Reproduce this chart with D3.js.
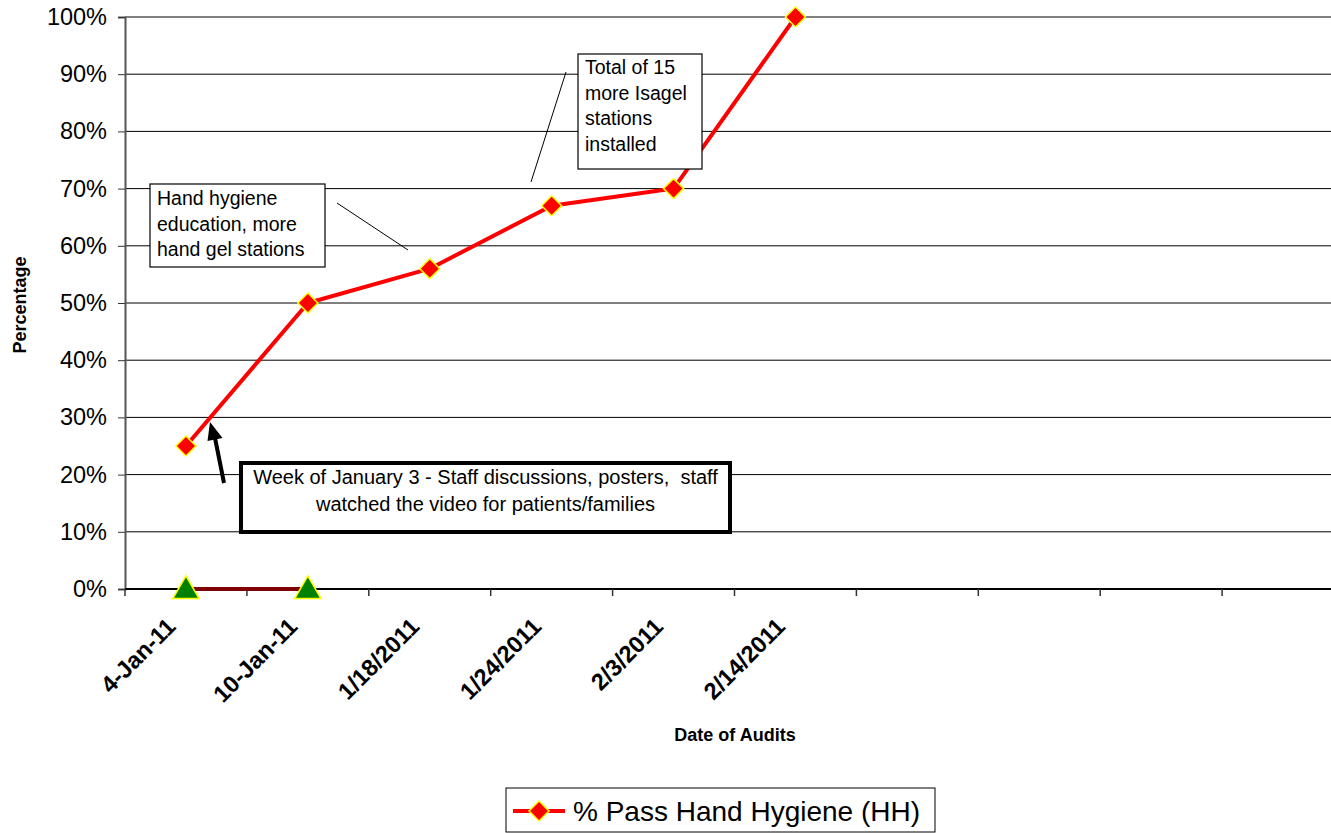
<!DOCTYPE html>
<html>
<head>
<meta charset="utf-8">
<script src="https://cdn.jsdelivr.net/npm/d3@7/dist/d3.min.js"></script>
<style>
  html, body { margin: 0; padding: 0; background: #fff; }
  svg { display: block; font-family: Arial, "Liberation Sans", sans-serif; }
</style>
</head>
<body>
<svg id="chart" width="1331" height="833"></svg>
<script>
// Audit dates (10 category slots, only the first six are used)
const categories = ["4-Jan-11", "10-Jan-11", "1/18/2011", "1/24/2011", "2/3/2011", "2/14/2011", "", "", "", ""];
// % Pass Hand Hygiene (HH)
const passValues = [0.25, 0.50, 0.56, 0.67, 0.70, 1.00];
// Baseline series shown as green triangles
const baselineValues = [0, 0];
const yTicks = [0, 0.1, 0.2, 0.3, 0.4, 0.5, 0.6, 0.7, 0.8, 0.9, 1.0];
const legendLabel = "% Pass Hand Hygiene (HH)";

const svg = d3.select("#chart");
const plot = { left: 125, top: 17, bottom: 589, catWidth: 121.9 };
plot.right = plot.left + plot.catWidth * categories.length;

const x = d3.scaleBand()
  .domain(d3.range(categories.length))
  .range([plot.left, plot.right])
  .paddingInner(0).paddingOuter(0);
const y = d3.scaleLinear().domain([0, 1]).range([plot.bottom, plot.top]);
const cx = i => x(i) + x.bandwidth() / 2;

// Horizontal gridlines
svg.append("g").selectAll("line")
  .data(yTicks.slice(1))
  .join("line")
  .attr("x1", plot.left).attr("x2", plot.right)
  .attr("y1", d => y(d)).attr("y2", d => y(d))
  .attr("stroke", d => d === 1 ? "#808080" : "#000")
  .attr("stroke-width", d => d === 1 ? 2 : 1);

// Y axis
const yAxis = svg.append("g")
  .attr("transform", `translate(${plot.left},0)`)
  .call(d3.axisLeft(y).tickValues(yTicks).tickFormat(d3.format(".0%")).tickSize(7).tickPadding(11));
yAxis.select(".domain").attr("stroke", "#555").attr("stroke-width", 2);
yAxis.selectAll(".tick line").attr("stroke", "#333");
yAxis.selectAll(".tick text")
  .attr("font-size", 23.5).attr("fill", "#000")
  .attr("font-family", "Arial, 'Liberation Sans', sans-serif");

// X axis with ticks between categories
const xAxisG = svg.append("g").attr("transform", `translate(0,${plot.bottom})`);
xAxisG.append("line")
  .attr("x1", plot.left).attr("x2", plot.right)
  .attr("stroke", "#000").attr("stroke-width", 2);
xAxisG.selectAll("line.tk")
  .data(d3.range(categories.length + 1))
  .join("line").attr("class", "tk")
  .attr("x1", i => plot.left + i * x.bandwidth())
  .attr("x2", i => plot.left + i * x.bandwidth())
  .attr("y1", 0).attr("y2", 7)
  .attr("stroke", "#333").attr("stroke-width", 1.5);
xAxisG.selectAll("text")
  .data(categories.map((c, i) => ({ c, i })).filter(d => d.c))
  .join("text")
  .attr("transform", d => `translate(${cx(d.i) - 9},39) rotate(-45)`)
  .attr("text-anchor", "end")
  .attr("font-size", 23.5)
  .attr("font-weight", "bold")
  .text(d => d.c);

// Axis titles
svg.append("text")
  .attr("x", 735).attr("y", 741)
  .attr("text-anchor", "middle")
  .attr("font-size", 18).attr("font-weight", "bold")
  .text("Date of Audits");
svg.append("text")
  .attr("transform", "translate(26,305) rotate(-90)")
  .attr("text-anchor", "middle")
  .attr("font-size", 18).attr("font-weight", "bold")
  .text("Percentage");

// Baseline series: dark red line with green triangles
const line = d3.line().x((d, i) => cx(i)).y(d => y(d));
svg.append("path")
  .datum(baselineValues)
  .attr("d", line)
  .attr("fill", "none").attr("stroke", "#800000").attr("stroke-width", 4);
const tri = d3.symbol().type(d3.symbolTriangle).size(300);
svg.append("g").selectAll("path")
  .data(baselineValues)
  .join("path")
  .attr("d", tri)
  .attr("transform", (d, i) => `translate(${cx(i)},${y(d) + 2})`)
  .attr("fill", "#008000").attr("stroke", "#ffff00").attr("stroke-width", 1.5);

// Main series: red line with red diamonds
svg.append("path")
  .datum(passValues)
  .attr("d", line)
  .attr("fill", "none").attr("stroke", "#ff0000").attr("stroke-width", 4)
  .attr("stroke-linejoin", "round");
const diamond = d3.symbol().type(d3.symbolSquare).size(200);
svg.append("g").selectAll("path")
  .data(passValues)
  .join("path")
  .attr("d", diamond)
  .attr("transform", (d, i) => `translate(${cx(i)},${y(d)}) rotate(45)`)
  .attr("fill", "#ff0000").attr("stroke", "#ffff00").attr("stroke-width", 1.5);

// Callout boxes
function callout(bx, by, bw, bh, lines, opts) {
  const g = svg.append("g");
  g.append("rect")
    .attr("x", bx).attr("y", by).attr("width", bw).attr("height", bh)
    .attr("fill", "#fff").attr("stroke", "#000").attr("stroke-width", opts.border);
  g.selectAll("text")
    .data(lines)
    .join("text")
    .attr("x", opts.anchor === "middle" ? bx + bw / 2 : bx + 7)
    .attr("y", (d, i) => opts.firstBaseline + i * opts.lineHeight)
    .attr("text-anchor", opts.anchor || "start")
    .attr("font-size", opts.size)
    .attr("fill", "#000")
    .style("white-space", "pre")
    .text(d => d);
}

callout(150, 184, 175, 83,
  ["Hand hygiene", "education, more", "hand gel stations"],
  { border: 1.2, firstBaseline: 205, lineHeight: 25.5, size: 19.5 });
svg.append("line")
  .attr("x1", 337).attr("y1", 203).attr("x2", 408).attr("y2", 250)
  .attr("stroke", "#000").attr("stroke-width", 1);

callout(578, 54, 124, 115,
  ["Total of 15", "more Isagel", "stations", "installed"],
  { border: 1.2, firstBaseline: 74, lineHeight: 25.7, size: 19.5 });
svg.append("line")
  .attr("x1", 566).attr("y1", 72).attr("x2", 531).attr("y2", 182)
  .attr("stroke", "#000").attr("stroke-width", 1);

callout(241, 463, 489, 69,
  ["Week of January 3 - Staff discussions, posters,  staff", "watched the video for patients/families"],
  { border: 4, anchor: "middle", firstBaseline: 484, lineHeight: 27, size: 20 });

// Arrow pointing at the first rise
svg.append("line")
  .attr("x1", 224).attr("y1", 483).attr("x2", 215).attr("y2", 438)
  .attr("stroke", "#000").attr("stroke-width", 4);
svg.append("path")
  .attr("d", "M210,422 L207.5,441 L222.5,438 Z")
  .attr("fill", "#000");

// Legend
const lg = svg.append("g");
lg.append("rect")
  .attr("x", 506).attr("y", 788).attr("width", 429).attr("height", 44)
  .attr("fill", "#fff").attr("stroke", "#000").attr("stroke-width", 1);
lg.append("line")
  .attr("x1", 513).attr("x2", 565).attr("y1", 811).attr("y2", 811)
  .attr("stroke", "#ff0000").attr("stroke-width", 4);
lg.append("path")
  .attr("d", diamond)
  .attr("transform", "translate(539,811) rotate(45)")
  .attr("fill", "#ff0000").attr("stroke", "#ffff00").attr("stroke-width", 1.5);
lg.append("text")
  .attr("x", 573).attr("y", 821)
  .attr("font-size", 28)
  .text(legendLabel);
</script>
</body>
</html>
